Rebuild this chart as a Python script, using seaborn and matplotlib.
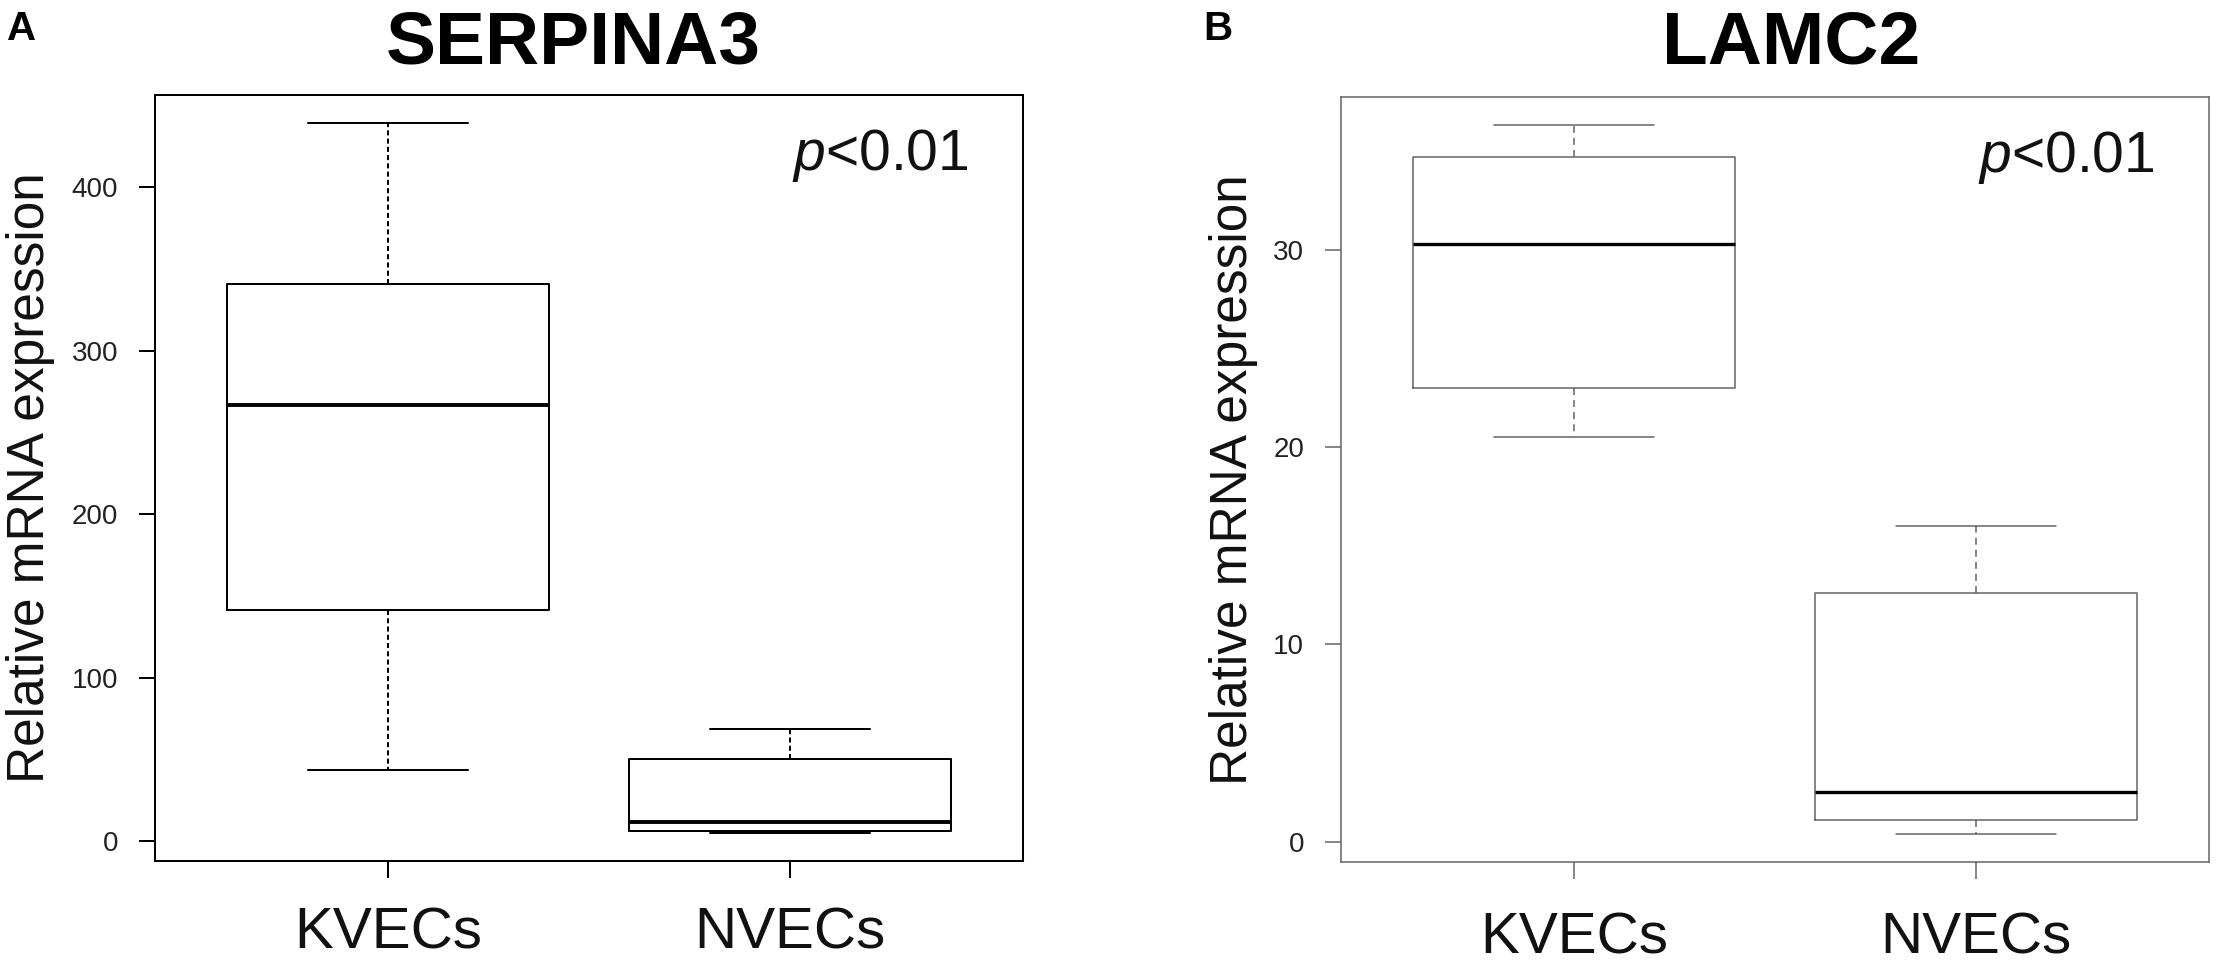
import pandas as pd
import matplotlib
matplotlib.use("Agg")
import matplotlib.pyplot as plt
import seaborn as sns

# Data: five-number summaries (min, Q1, median, Q3, max)
groups = ["KVECs", "NVECs"]
serpina3_kvecs = [43.3, 141.4, 266.7, 341.0, 439.2]
serpina3_nvecs = [5.1, 6.1, 11.8, 50.0, 68.7]
lamc2_kvecs = [20.5, 23.0, 30.3, 34.7, 36.3]
lamc2_nvecs = [0.4, 1.1, 2.5, 12.6, 16.0]
serpina3_yticks = [0, 100, 200, 300, 400]
lamc2_yticks = [0, 10, 20, 30]
ylabel = "Relative mRNA expression"

sns.set_theme(style="ticks")
plt.rcParams["font.family"] = ["Liberation Sans", "DejaVu Sans"]
plt.rcParams["text.color"] = "black"
plt.rcParams["mathtext.fontset"] = "custom"
plt.rcParams["mathtext.rm"] = "Liberation Sans"
plt.rcParams["mathtext.it"] = "Liberation Sans:italic"

fig = plt.figure(figsize=(22.18, 9.63), dpi=100)
W, H = 2218, 963


def long_df(kvecs, nvecs):
    return pd.DataFrame({
        "group": [groups[0]] * len(kvecs) + [groups[1]] * len(nvecs),
        "value": kvecs + nvecs,
    })


def draw_panel(ax, df, yticks, col, lw, med_lw, dash, xpad, lab_x):
    sns.boxplot(data=df, x="group", y="value", ax=ax, order=groups,
                whis=(0, 100), width=0.8, fill=False, color=col,
                linewidth=lw, showfliers=False,
                medianprops=dict(color="black", linewidth=med_lw),
                whiskerprops=dict(linestyle=(0, dash)))
    vals = df["value"]
    lo, hi = vals.min(), vals.max()
    pad = 0.04 * (hi - lo)
    ax.set_ylim(lo - pad, hi + pad)
    ax.set_xlim(-0.58, 1.58)
    ax.set_yticks(yticks)
    ax.set_yticklabels([str(t) for t in yticks])
    ax.set_xlabel("")
    ax.set_ylabel(ylabel, fontsize=37, color="#111111")
    ax.yaxis.set_label_coords(lab_x, 0.5)
    for s in ax.spines.values():
        s.set_visible(True)
        s.set_color(col)
        s.set_linewidth(lw)
    ax.tick_params(axis="y", length=11.5, width=lw, color=col, pad=15,
                   labelsize=20, labelcolor="#222222")
    ax.tick_params(axis="x", length=12, width=lw, color=col, pad=xpad,
                   labelsize=42, labelcolor="#111111")
    ax.annotate(r"$p$<0.01", xy=(1, 1), xycoords="axes fraction",
                xytext=(-54, -75), textcoords="offset pixels",
                ha="right", va="baseline", fontsize=41, color="#111111")


# Panel A
ax1 = fig.add_axes([155 / W, 1 - 861 / H, 868 / W, 766 / H])
draw_panel(ax1, long_df(serpina3_kvecs, serpina3_nvecs), serpina3_yticks,
           "black", 1.45, 2.8, (2.5, 1.6), 21, -0.1154)

# Panel B
ax2 = fig.add_axes([1341 / W, 1 - 862 / H, 868 / W, 765 / H])
draw_panel(ax2, long_df(lamc2_kvecs, lamc2_nvecs), lamc2_yticks,
           "#646464", 1.1, 2.4, (4.6, 3.3), 24, -0.0956)

# Titles and panel letters
fig.text(573 / W, 1 - 63 / H, "SERPINA3", ha="center", va="baseline",
         fontsize=54, fontweight="bold", color="black")
fig.text(1791 / W, 1 - 64 / H, "LAMC2", ha="center", va="baseline",
         fontsize=54, fontweight="bold", color="black")
fig.text(7 / W, 1 - 40 / H, "A", ha="left", va="baseline",
         fontsize=29, fontweight="bold", color="black")
fig.text(1203 / W, 1 - 40 / H, "B", ha="left", va="baseline",
         fontsize=29, fontweight="bold", color="black")

fig.savefig("out.png", dpi=100, facecolor="white")
